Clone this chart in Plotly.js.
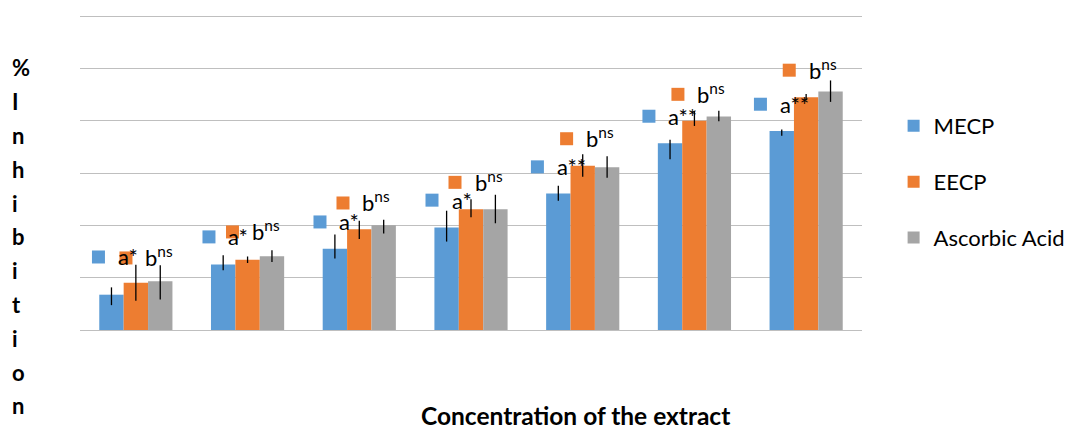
<!DOCTYPE html>
<html><head><meta charset="utf-8">
<script src="https://cdn.plot.ly/plotly-3.0.1.min.js"></script>
<style>html,body{margin:0;padding:0;background:#fff}#chart{width:1071px;height:430px}</style>
</head><body><div id="chart"></div>
<script>
// ---- data ----
const categories = ['Conc. 1','Conc. 2','Conc. 3','Conc. 4','Conc. 5','Conc. 6','Conc. 7'];
const seriesNames = ['MECP','EECP','Ascorbic Acid'];
const mecp = [6.75,12.5,15.55,19.6,26.1,35.7,38.05];
const mecpErrPlus = [1.4,1.8,2.7,3.2,1.45,0.65,0.25];
const mecpErrMinus = [2.0,1.1,1.9,2.7,1.4,3.05,0.9];
const eecp = [9.05,13.45,19.25,23.1,31.4,40.0,44.5];
const eecpErrPlus = [3.4,0.6,1.65,1.9,2.2,1.85,0.6];
const eecpErrMinus = [3.45,0.65,1.85,1.55,2.1,1.0,0.6];
const ascorbic = [9.3,14.1,20.0,23.1,31.1,40.8,45.6];
const ascorbicErrPlus = [3.1,1.15,1.05,2.75,2.1,1.1,2.1];
const ascorbicErrMinus = [3.45,1.1,1.55,2.7,2.0,0.9,2.0];
const mecpLabels = ['a*','a*','a*','a*','a**','a**','a**'];
const eecpLabels = ['b<sup>ns</sup>','b<sup>ns</sup>','b<sup>ns</sup>','b<sup>ns</sup>','b<sup>ns</sup>','b<sup>ns</sup>','b<sup>ns</sup>'];
const yTitle = '%Inhibition';
const xTitle = 'Concentration of the extract';

// ---- layout / style ----
const colors = ['#5B9BD5','#ED7D31','#A5A5A5'];
const FONT = 'Lato, "Open Sans", sans-serif';
// label key offsets (px) from group centre / bar top
const blueKeyDx = [-37.4,-38.6,-39.3,-39,-45.3,-45.5,-45.7];
const blueKeyDy = [37.7,27.7,26.7,27.3,26.6,27,26.7];
const orangeKeyDx = [-9.9,-15.1,-16.3,-16,-16.1,-16.5,-16.9];
const orangeKeyDy = [24.7,27.7,26.3,26.8,27,26.4,27];

const YMAX = 60.4;
const BOTTOM = 330;                 // pixel row of y = 0
const H = 314 * YMAX / 60;          // keeps y = 60 at pixel row 16
const T = BOTTOM - H;
const L = 80, W = 782;
const LABEL_SIZE = 22;

function barTrace(name, y, plus, minus, color) {
  return {
    type: 'bar', name: name, x: categories, y: y,
    marker: {color: color, line: {width: 0}},
    legendgroup: name,
    error_y: {type: 'data', symmetric: false, array: plus, arrayminus: minus,
              color: '#000', thickness: 1.3, width: 0},
    hoverinfo: 'y'
  };
}
const data = [
  barTrace(seriesNames[0], mecp, mecpErrPlus, mecpErrMinus, colors[0]),
  barTrace(seriesNames[1], eecp, eecpErrPlus, eecpErrMinus, colors[1]),
  barTrace(seriesNames[2], ascorbic, ascorbicErrPlus, ascorbicErrMinus, colors[2])
];

const annotations = [];
const shapes = [];
function addLabel(i, val, dx, dy, color, text) {
  shapes.push({type: 'rect', layer: 'above', xref: 'x', yref: 'y',
    xsizemode: 'pixel', ysizemode: 'pixel', xanchor: i, yanchor: val,
    x0: dx - 6.5, x1: dx + 6.5, y0: dy - 6.5, y1: dy + 6.5,
    fillcolor: color, line: {width: 0}});
  annotations.push({x: categories[i], y: val, xref: 'x', yref: 'y', xshift: dx + 19.5, yshift: dy - 13.5,
    text: text, showarrow: false, borderwidth: 0, borderpad: 0, xanchor: 'left', yanchor: 'bottom',
    font: {family: FONT, size: LABEL_SIZE, color: '#000'}});
}
categories.forEach((c, i) => addLabel(i, mecp[i], blueKeyDx[i], blueKeyDy[i], colors[0], mecpLabels[i]));
categories.forEach((c, i) => addLabel(i, eecp[i], orangeKeyDx[i], orangeKeyDy[i], colors[1], eecpLabels[i]));

// vertical stacked y title
yTitle.split('').forEach((ch, i) => {
  const baseline = 76.7 + 33.8 * i;
  annotations.push({xref: 'paper', yref: 'paper', x: (12 - L) / W, y: (BOTTOM - (baseline + 4.7)) / H,
    xanchor: 'left', yanchor: 'bottom', text: '<b>' + ch + '</b>', showarrow: false, borderwidth: 0, borderpad: 0,
    font: {family: FONT, size: 22, color: '#000'}});
});
// x title
annotations.push({xref: 'paper', yref: 'paper', x: (575.5 - L) / W, y: (BOTTOM - 430) / H,
  xanchor: 'center', yanchor: 'bottom', text: '<b>' + xTitle + '</b>', showarrow: false,
  borderwidth: 0, borderpad: 0, font: {family: FONT, size: 24.5, color: '#000'}});

const layout = {
  width: 1071, height: 430,
  margin: {l: L, r: 1071 - L - W, t: T, b: 430 - BOTTOM, pad: 0, autoexpand: false},
  paper_bgcolor: '#fff', plot_bgcolor: '#fff',
  barmode: 'group', bargap: 0.345, bargroupgap: 0,
  font: {family: FONT, size: LABEL_SIZE, color: '#000'},
  xaxis: {type: 'category', showticklabels: false, ticks: '', showgrid: false,
          showline: true, linecolor: '#BFBFBF', linewidth: 1, zeroline: false},
  yaxis: {range: [0, YMAX], dtick: 10, showticklabels: false, ticks: '', showgrid: true,
          gridcolor: '#BFBFBF', gridwidth: 1, zeroline: false, showline: false},
  showlegend: true,
  legend: {x: (893.6 - L) / W, xanchor: 'left', y: (BOTTOM - 105) / H, yanchor: 'top',
           traceorder: 'grouped', tracegroupgap: 24.2, bgcolor: 'rgba(0,0,0,0)',
           font: {family: FONT, size: 22, color: '#000'}},
  shapes: shapes,
  annotations: annotations
};
Plotly.newPlot('chart', data, layout, {displayModeBar: false, staticPlot: true});
</script></body></html>
